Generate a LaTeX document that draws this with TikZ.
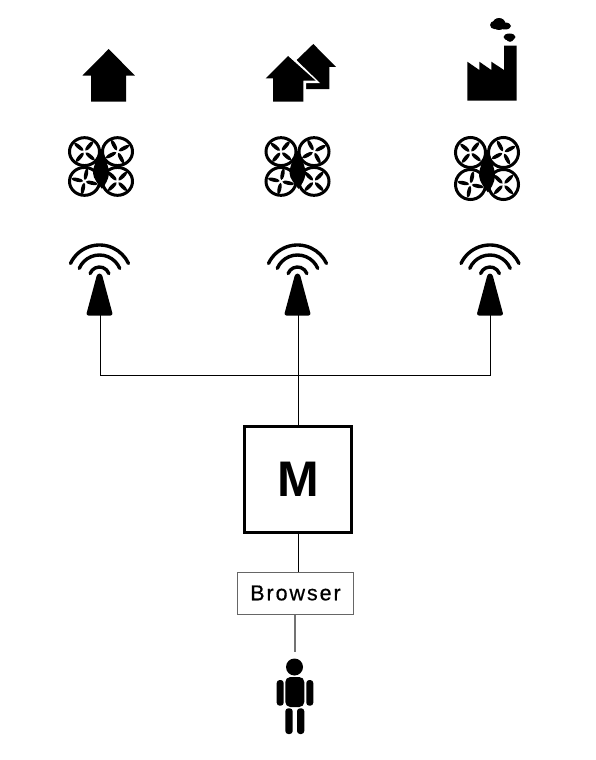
\documentclass[tikz,border=0pt]{standalone}
\usepackage{fontspec}
\setmainfont{Liberation Sans}
\newfontfamily\browserfont[LetterSpace=9,FakeBold=0.6]{Liberation Sans}
\tikzset{
  x=1pt,y=-1pt,
  link/.style={draw=black,line width=0.9pt},
  greylink/.style={draw=black!55,line width=1.3pt},
  icon/.style={fill=black,draw=none},
  ringline/.style={draw=black,line width=3pt,fill=white},
  waveline/.style={draw=black,line width=3.4pt,line cap=round},
  mbox/.style={draw=black,line width=3.8pt,minimum width=107pt,minimum height=106pt,inner sep=0pt,font=\fontsize{50}{50}\selectfont\bfseries},
  bbox/.style={draw=black!60,line width=1pt,minimum width=116pt,minimum height=42pt,inner sep=0pt,font=\browserfont\fontsize{21.5}{22}\selectfont},
  rotorangle/.initial=45,
  rotor/.pic={
    \foreach \a in {0,90,180,270} \fill[rotate=\a+\pgfkeysvalueof{/tikz/rotorangle}] (7.4,0) ellipse [x radius=6,y radius=1.9];},
  drone/.pic={
    \draw[ringline] (-16.5,-16) circle (15);
    \draw[ringline] (16.5,-16) circle (15);
    \draw[ringline] (-16.5,16) circle (15);
    \draw[ringline] (16.5,16) circle (15);
    \pic[rotorangle=50] at (-16.5,-16) {rotor};
    \pic[rotorangle=28] at (16.5,-16) {rotor};
    \pic[rotorangle=78] at (-16.5,16) {rotor};
    \pic[rotorangle=45] at (16.5,16) {rotor};
    \fill (0,-17) .. controls (3.5,-10) and (8.5,1) .. (8,8) .. controls (7.5,14) and (4,20) .. (1,24)
      .. controls (-2,20) and (-8,13) .. (-8,7) .. controls (-8,0) and (-3.5,-10) .. (0,-17) -- cycle;
  },
  tower/.pic={
    \draw[waveline] (-155:32) arc (-155:-25:32);
    \draw[waveline] (-157:22) arc (-157:-23:22);
    \draw[waveline] (-160:10) arc (-160:-20:10);
    \fill[rounded corners=2.5pt] (-2.2,-3.5) -- (2.2,-3.5) -- (13.5,38.5) -- (-13.5,38.5) -- cycle;
  },
}
\begin{document}
\begin{tikzpicture}
\useasboundingbox (0,0) rectangle (595,760);
% home
\fill[icon] (108.7,49) -- (134.8,75.5) -- (126,75.5) -- (126,101.5) -- (91,101.5) -- (91,75.5) -- (82.5,75.5) -- cycle;
% houses
\fill[icon] (313.3,44) -- (336,67) -- (329.3,67) -- (329.3,89) -- (306,89) -- (306,81) -- (296.7,60) -- cycle;
\fill[white] (288,52) -- (320,83) -- (306,83) -- (306,103) -- (290,103) -- cycle;
\fill[icon] (288,56) -- (315.5,80.5) -- (303.3,80.5) -- (303.3,101.7) -- (273,101.7) -- (273,78.3) -- (265.7,78.3) -- cycle;
% factory
\fill[icon] (467.3,61.7) -- (479.3,70) -- (479.3,61.7) -- (491.3,70) -- (491.3,61.7) -- (504,70) -- (504,45.7) -- (516.7,45.7) -- (516.7,100.7) -- (467.3,100.7) -- cycle;
\fill[icon] (495,25) ellipse [x radius=5,y radius=4.2];
\fill[icon] (499,24) ellipse [x radius=6.5,y radius=6];
\fill[icon] (505,26) ellipse [x radius=6,y radius=3.5];
\fill[icon] (509.5,37) ellipse [x radius=6,y radius=3.5];
\fill[icon] (510,39) ellipse [x radius=3.5,y radius=2.8];
% drones
\pic[yscale=.93] at (101,166.5) {drone};
\pic[yscale=.93] at (297.5,166.5) {drone};
\pic at (487,168.5) {drone};
% towers
\pic at (99.5,277) {tower};
\pic at (297.5,277) {tower};
\pic at (490,277) {tower};
\coordinate (t1) at (100,315);
\coordinate (t2) at (298,315);
\coordinate (t3) at (490,315);
\coordinate (bus) at (298,375.5);
\node[mbox] (m) at (298,479.5) {M};
\node[bbox] (b) at (295.5,593) {Browser};
\coordinate (p) at (295,652);
\draw[link] (t1) |- (bus) -| (t3);
\draw[link] (t2) -- (m.north);
\draw[link] (m.south) -- (m.south |- b.north);
\draw[greylink] (p |- b.south) -- (p);
% person
\fill[icon] (294.5,667) circle (8.5);
\fill[icon,rounded corners=5pt] (285.3,677) rectangle (304.3,707);
\fill[icon,rounded corners=3pt] (276.7,680) rectangle (283.7,705.7);
\fill[icon,rounded corners=3pt] (306.3,680) rectangle (313.3,705.7);
\fill[icon,rounded corners=3pt] (285.3,708.3) rectangle (292.7,734);
\fill[icon,rounded corners=3pt] (297,708.3) rectangle (304.3,734);
\end{tikzpicture}
\end{document}
